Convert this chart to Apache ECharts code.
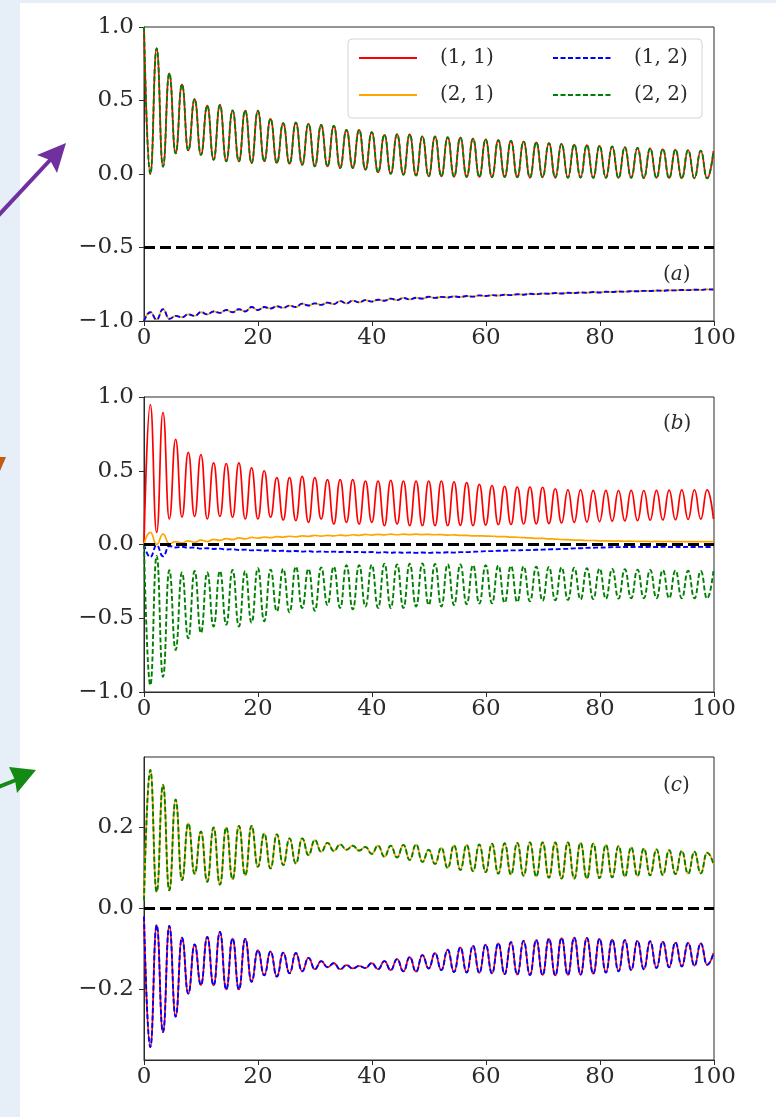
<!DOCTYPE html>
<html>
<head>
<meta charset="utf-8">
<script src="https://cdn.jsdelivr.net/npm/echarts@6/dist/echarts.min.js"></script>
<style>
html,body{margin:0;padding:0;background:#fff}
#chart{width:776px;height:1117px}
</style>
</head>
<body>
<div id="chart"></div>
<script>
// Times of the successive maxima / minima (shared by all three panels)
const tGrid = [0, 1.11, 2.22, 3.33, 4.44, 5.55, 6.66, 7.77, 8.88, 9.99,
  11.1, 12.21, 13.32, 14.43, 15.54, 16.65, 17.76, 18.87, 19.98,
  21.09, 22.2, 23.31, 24.42, 25.53, 26.64, 27.75, 28.86, 29.97,
  31.08, 32.19, 33.3, 34.41, 35.52, 36.63, 37.74, 38.85, 39.96,
  41.07, 42.18, 43.29, 44.4, 45.51, 46.62, 47.73, 48.84, 49.95,
  51.06, 52.17, 53.28, 54.39, 55.5, 56.61, 57.72, 58.83, 59.94,
  61.05, 62.16, 63.27, 64.38, 65.49, 66.6, 67.71, 68.82, 69.93,
  71.04, 72.15, 73.26, 74.37, 75.48, 76.59, 77.7, 78.81, 79.92,
  81.03, 82.14, 83.25, 84.36, 85.47, 86.58, 87.69, 88.8, 89.91,
  91.02, 92.13, 93.24, 94.35, 95.46, 96.57, 97.68, 98.79, 99.9];

// (a): diagonal elements (1,1) = (2,2)
const aDiag = [1.0, 0.0, 0.854, 0.05, 0.685, 0.14, 0.61, 0.16, 0.51, 0.13,
  0.465, 0.097, 0.47, 0.086, 0.432, 0.086, 0.432, 0.075, 0.43, 0.086,
  0.375, 0.075, 0.346, 0.07, 0.35, 0.063, 0.341, 0.052, 0.334, 0.052,
  0.328, 0.041, 0.3, 0.041, 0.3, 0.03, 0.285, 0.011, 0.267, 0.002,
  0.27, -0.005, 0.27, -0.01, 0.255, -0.015, 0.255, -0.016, 0.25, -0.018,
  0.248, -0.02, 0.24, -0.02, 0.235, -0.022, 0.23, -0.02, 0.225, -0.022,
  0.22, -0.024, 0.215, -0.022, 0.21, -0.024, 0.205, -0.025, 0.2, -0.024,
  0.197, -0.026, 0.192, -0.025, 0.187, -0.027, 0.182, -0.026, 0.178, -0.028,
  0.174, -0.027, 0.17, -0.028, 0.166, -0.03, 0.162, -0.029, 0.158, -0.03,
  0.155];
// (a): off-diagonal elements (1,2) = (2,1)
const aOff = [-1.0, -0.94, -0.99, -0.92, -0.985, -0.965, -0.975, -0.955, -0.965, -0.94,
  -0.955, -0.935, -0.945, -0.925, -0.94, -0.92, -0.935, -0.905, -0.925, -0.905,
  -0.915, -0.9, -0.91, -0.895, -0.905, -0.882, -0.895, -0.88, -0.89, -0.875,
  -0.885, -0.865, -0.88, -0.862, -0.873, -0.858, -0.868, -0.855, -0.862, -0.848,
  -0.858, -0.843, -0.853, -0.842, -0.848, -0.835, -0.843, -0.836, -0.84, -0.833,
  -0.837, -0.83, -0.834, -0.826, -0.83, -0.824, -0.827, -0.821, -0.824, -0.818,
  -0.821, -0.815, -0.818, -0.813, -0.815, -0.81, -0.813, -0.808, -0.81, -0.806,
  -0.808, -0.803, -0.806, -0.801, -0.803, -0.799, -0.801, -0.797, -0.798, -0.795,
  -0.796, -0.793, -0.794, -0.791, -0.792, -0.789, -0.79, -0.787, -0.788, -0.785,
  -0.786];

// (b)
const b11 = [0.0, 0.948, 0.082, 0.895, 0.173, 0.713, 0.185, 0.624, 0.19, 0.61,
  0.173, 0.553, 0.19, 0.549, 0.185, 0.553, 0.173, 0.52, 0.173, 0.5,
  0.185, 0.453, 0.166, 0.453, 0.162, 0.462, 0.15, 0.453, 0.173, 0.44,
  0.139, 0.44, 0.15, 0.44, 0.139, 0.43, 0.15, 0.43, 0.128, 0.435,
  0.139, 0.43, 0.128, 0.43, 0.128, 0.43, 0.128, 0.43, 0.128, 0.424,
  0.13, 0.42, 0.128, 0.408, 0.132, 0.4, 0.135, 0.394, 0.136, 0.39,
  0.139, 0.39, 0.14, 0.388, 0.142, 0.378, 0.146, 0.371, 0.15, 0.37,
  0.152, 0.367, 0.155, 0.367, 0.158, 0.366, 0.16, 0.367, 0.162, 0.366,
  0.165, 0.367, 0.166, 0.368, 0.168, 0.37, 0.17, 0.37, 0.172, 0.371,
  0.173];
const b21 = [0.0, 0.082, 0.0, 0.07, 0.005, 0.02, 0.01, 0.025, 0.015, 0.03,
  0.02, 0.035, 0.028, 0.04, 0.033, 0.045, 0.038, 0.048, 0.043, 0.05,
  0.046, 0.053, 0.05, 0.056, 0.052, 0.058, 0.055, 0.062, 0.057, 0.062,
  0.058, 0.064, 0.06, 0.066, 0.062, 0.068, 0.064, 0.069, 0.065, 0.07,
  0.066, 0.07, 0.067, 0.07, 0.067, 0.069, 0.066, 0.067, 0.064, 0.065,
  0.062, 0.062, 0.059, 0.059, 0.057, 0.056, 0.053, 0.053, 0.05, 0.049,
  0.046, 0.045, 0.042, 0.041, 0.038, 0.037, 0.034, 0.033, 0.03, 0.03,
  0.027, 0.027, 0.025, 0.025, 0.023, 0.024, 0.022, 0.023, 0.021, 0.022,
  0.02, 0.021, 0.02, 0.021, 0.019, 0.02, 0.019, 0.02, 0.019, 0.02,
  0.019];
const b12 = [0.0, -0.085, -0.005, -0.08, -0.01, -0.02, -0.015, -0.022, -0.02, -0.028,
  -0.025, -0.03, -0.028, -0.034, -0.032, -0.037, -0.035, -0.04, -0.038, -0.042,
  -0.04, -0.045, -0.042, -0.046, -0.044, -0.048, -0.045, -0.05, -0.047, -0.05,
  -0.048, -0.051, -0.049, -0.052, -0.05, -0.053, -0.051, -0.055, -0.052, -0.056,
  -0.053, -0.056, -0.054, -0.057, -0.054, -0.057, -0.054, -0.056, -0.053, -0.055,
  -0.052, -0.052, -0.049, -0.048, -0.045, -0.045, -0.042, -0.042, -0.04, -0.04,
  -0.038, -0.038, -0.036, -0.035, -0.033, -0.032, -0.03, -0.029, -0.026, -0.025,
  -0.023, -0.022, -0.02, -0.02, -0.018, -0.018, -0.017, -0.017, -0.016, -0.017,
  -0.016, -0.017, -0.016, -0.017, -0.016, -0.017, -0.016, -0.017, -0.016, -0.017,
  -0.016];
const b22 = [0.0, -0.954, -0.077, -0.897, -0.175, -0.715, -0.19, -0.636, -0.18, -0.6,
  -0.19, -0.556, -0.18, -0.544, -0.172, -0.556, -0.18, -0.53, -0.16, -0.52,
  -0.17, -0.453, -0.165, -0.46, -0.15, -0.43, -0.165, -0.45, -0.155, -0.41,
  -0.15, -0.43, -0.14, -0.44, -0.14, -0.42, -0.138, -0.43, -0.13, -0.43,
  -0.135, -0.43, -0.13, -0.42, -0.128, -0.41, -0.132, -0.42, -0.134, -0.41,
  -0.136, -0.405, -0.14, -0.4, -0.14, -0.398, -0.143, -0.395, -0.145, -0.39,
  -0.148, -0.385, -0.15, -0.382, -0.152, -0.378, -0.155, -0.375, -0.158, -0.372,
  -0.16, -0.37, -0.163, -0.368, -0.166, -0.366, -0.168, -0.365, -0.17, -0.364,
  -0.172, -0.364, -0.174, -0.364, -0.176, -0.365, -0.178, -0.365, -0.18, -0.366,
  -0.18];

// (c): second row (2,1) = (2,2), first row (1,1) = (1,2)
const cRow2 = [0.02, 0.342, 0.041, 0.305, 0.045, 0.269, 0.07, 0.21, 0.086, 0.19,
  0.066, 0.2, 0.059, 0.2, 0.072, 0.204, 0.082, 0.204, 0.103, 0.185,
  0.099, 0.183, 0.107, 0.173, 0.111, 0.173, 0.132, 0.169, 0.14, 0.162,
  0.142, 0.158, 0.145, 0.155, 0.143, 0.152, 0.135, 0.155, 0.128, 0.155,
  0.126, 0.157, 0.12, 0.158, 0.115, 0.145, 0.11, 0.15, 0.1, 0.156,
  0.095, 0.157, 0.092, 0.158, 0.09, 0.16, 0.086, 0.161, 0.084, 0.162,
  0.081, 0.163, 0.079, 0.163, 0.076, 0.163, 0.074, 0.163, 0.074, 0.162,
  0.074, 0.16, 0.075, 0.157, 0.077, 0.154, 0.079, 0.151, 0.08, 0.148,
  0.082, 0.146, 0.083, 0.144, 0.085, 0.142, 0.086, 0.14, 0.087, 0.138,
  0.11];
const cRow1 = [-0.02, -0.342, -0.041, -0.305, -0.043, -0.267, -0.072, -0.21, -0.089, -0.189,
  -0.07, -0.19, -0.058, -0.2, -0.074, -0.2, -0.075, -0.181, -0.103, -0.165,
  -0.106, -0.168, -0.109, -0.16, -0.11, -0.155, -0.122, -0.15, -0.13, -0.145,
  -0.135, -0.15, -0.14, -0.148, -0.142, -0.147, -0.135, -0.15, -0.13, -0.152,
  -0.125, -0.155, -0.12, -0.156, -0.115, -0.148, -0.11, -0.152, -0.102, -0.157,
  -0.096, -0.158, -0.092, -0.159, -0.089, -0.16, -0.086, -0.162, -0.083, -0.163,
  -0.08, -0.164, -0.078, -0.164, -0.075, -0.165, -0.073, -0.164, -0.072, -0.163,
  -0.073, -0.161, -0.075, -0.158, -0.077, -0.155, -0.078, -0.152, -0.08, -0.15,
  -0.081, -0.147, -0.082, -0.145, -0.084, -0.143, -0.085, -0.141, -0.086, -0.139,
  -0.11];

const refLevels = [-0.5, 0, 0];
const xRange = [0, 100];
const yRangeAB = [-1, 1];
const yRangeC = [-0.374, 0.374];
const yTicksC = [-0.2, 0, 0.2];
const panelTags = ['a', 'b', 'c'];
const names = ['(1, 1)', '(2, 1)', '(1, 2)', '(2, 2)'];

const FONT = 'DejaVu Serif';
const INK = '#2b2b2b';
const COLORS = { '(1, 1)': '#ff0000', '(2, 1)': '#ffa500', '(1, 2)': '#0000ff', '(2, 2)': '#008000' };
const DASHED = { '(1, 1)': false, '(2, 1)': false, '(1, 2)': true, '(2, 2)': true };

const grids = [
  { left: 144, top: 27, width: 570, height: 294 },
  { left: 144, top: 397, width: 570, height: 295 },
  { left: 144, top: 757, width: 570, height: 303 }
].map(g => Object.assign(g, { show: true, borderColor: INK, borderWidth: 1, backgroundColor: 'transparent' }));

const fmt = v => (v < 0 ? '\u2212' : '') + Math.abs(v).toFixed(1);
const labelFont = { fontFamily: FONT, fontSize: 23, color: INK };
const axisCommon = {
  axisLine: { show: true, onZero: false, lineStyle: { color: INK, width: 1 } },
  axisTick: { show: true, inside: false, length: 5, lineStyle: { color: INK, width: 1 } },
  splitLine: { show: false }
};

const xAxes = [0, 1, 2].map(i => Object.assign({
  type: 'value', gridIndex: i, min: xRange[0], max: xRange[1], interval: 20,
  axisLabel: Object.assign({ margin: 6 }, labelFont)
}, axisCommon));

const yAxes = [0, 1, 2].map(i => {
  const base = Object.assign({ type: 'value', gridIndex: i }, axisCommon);
  if (i < 2) {
    Object.assign(base, {
      min: yRangeAB[0], max: yRangeAB[1], interval: 0.5,
      axisLabel: Object.assign({ margin: 10, formatter: fmt }, labelFont)
    });
  } else {
    Object.assign(base, {
      min: yRangeC[0], max: yRangeC[1],
      axisTick: { show: true, inside: false, length: 5, lineStyle: { color: INK, width: 1 }, customValues: yTicksC },
      axisLabel: Object.assign({ margin: 10, formatter: fmt, customValues: yTicksC }, labelFont)
    });
  }
  return base;
});

function curve(name, panel, values) {
  const color = COLORS[name];
  const dashed = DASHED[name];
  return {
    type: 'line', name, xAxisIndex: panel, yAxisIndex: panel,
    data: tGrid.map((t, i) => [t, values[i]]),
    symbol: 'none', showSymbol: false,
    smooth: 0.5, smoothMonotone: 'x',
    lineStyle: { color, width: dashed ? 1.9 : 1.7, type: dashed ? [5, 2.5] : 'solid' },
    itemStyle: { color },
    z: dashed ? 3 : 2, silent: true
  };
}

function refLine(panel) {
  return {
    type: 'line', name: 'ref' + panel, xAxisIndex: panel, yAxisIndex: panel,
    data: xRange.map(x => [x, refLevels[panel]]),
    symbol: 'none', showSymbol: false,
    lineStyle: { color: '#000', width: 3, type: [11, 5] },
    z: 4, silent: true
  };
}

const panelData = [
  { '(1, 1)': aDiag, '(2, 1)': aOff, '(1, 2)': aOff, '(2, 2)': aDiag },
  { '(1, 1)': b11, '(2, 1)': b21, '(1, 2)': b12, '(2, 2)': b22 },
  { '(1, 1)': cRow1, '(2, 1)': cRow2, '(1, 2)': cRow1, '(2, 2)': cRow2 }
];

const series = [];
panelData.forEach((pd, p) => {
  names.forEach(n => series.push(curve(n, p, pd[n])));
  series.push(refLine(p));
});

const tagTops = [260, 409, 771];
const titles = panelTags.map((tag, i) => ({
  text: '{p|(}{i|' + tag + '}{p|)}',
  left: 658, top: tagTops[i],
  textStyle: {
    fontWeight: 'normal',
    rich: {
      p: { fontFamily: FONT, fontSize: 20, fontWeight: 'normal', color: INK },
      i: { fontFamily: FONT, fontSize: 20, fontWeight: 'normal', fontStyle: 'italic', color: INK }
    }
  }
}));

const legendCommon = {
  orient: 'vertical', top: 47, padding: 0, itemGap: 15,
  itemWidth: 58, itemHeight: 14, selectedMode: false,
  itemStyle: { opacity: 0 },
  textStyle: { fontFamily: FONT, fontSize: 20, color: INK, lineHeight: 22, padding: [0, 0, 0, 18] }
};
const legends = [
  Object.assign({ left: 358, data: ['(1, 1)', '(2, 1)'] }, legendCommon),
  Object.assign({ left: 552, data: ['(1, 2)', '(2, 2)'] }, legendCommon)
];

const graphic = [
  // light page margins
  { type: 'rect', z: 0, shape: { x: 0, y: 0, width: 20, height: 1117 }, style: { fill: '#e6eef8' } },
  { type: 'rect', z: 0, shape: { x: 0, y: 0, width: 776, height: 3 }, style: { fill: '#e6eef8' } },
  // legend frame
  { type: 'rect', z: 3, shape: { x: 348, y: 39, width: 354, height: 79, r: 4 },
    style: { fill: 'rgba(255,255,255,0.85)', stroke: '#d4d4d4', lineWidth: 1 } },
  // purple pointer
  { type: 'line', z: 5, shape: { x1: -4, y1: 218, x2: 52, y2: 158 }, style: { stroke: '#7030a0', lineWidth: 4 } },
  { type: 'polygon', z: 5, shape: { points: [[66, 143], [37, 155], [50, 160], [57, 173]] }, style: { fill: '#7030a0' } },
  // orange pointer (cut at the margin)
  { type: 'polygon', z: 5, shape: { points: [[0, 457], [6, 457], [0, 471]] }, style: { fill: '#c55a11' } },
  // green pointer
  { type: 'line', z: 5, shape: { x1: -4, y1: 788, x2: 16, y2: 780 }, style: { stroke: '#138a13', lineWidth: 4 } },
  { type: 'polygon', z: 5, shape: { points: [[36, 770], [9, 767], [15, 780], [17, 793]] }, style: { fill: '#138a13' } }
];

const chart = echarts.init(document.getElementById('chart'), null, { renderer: 'canvas' });
chart.setOption({
  animation: false,
  backgroundColor: '#ffffff',
  title: titles,
  legend: legends,
  grid: grids,
  xAxis: xAxes,
  yAxis: yAxes,
  series,
  graphic
});
</script>
</body>
</html>
